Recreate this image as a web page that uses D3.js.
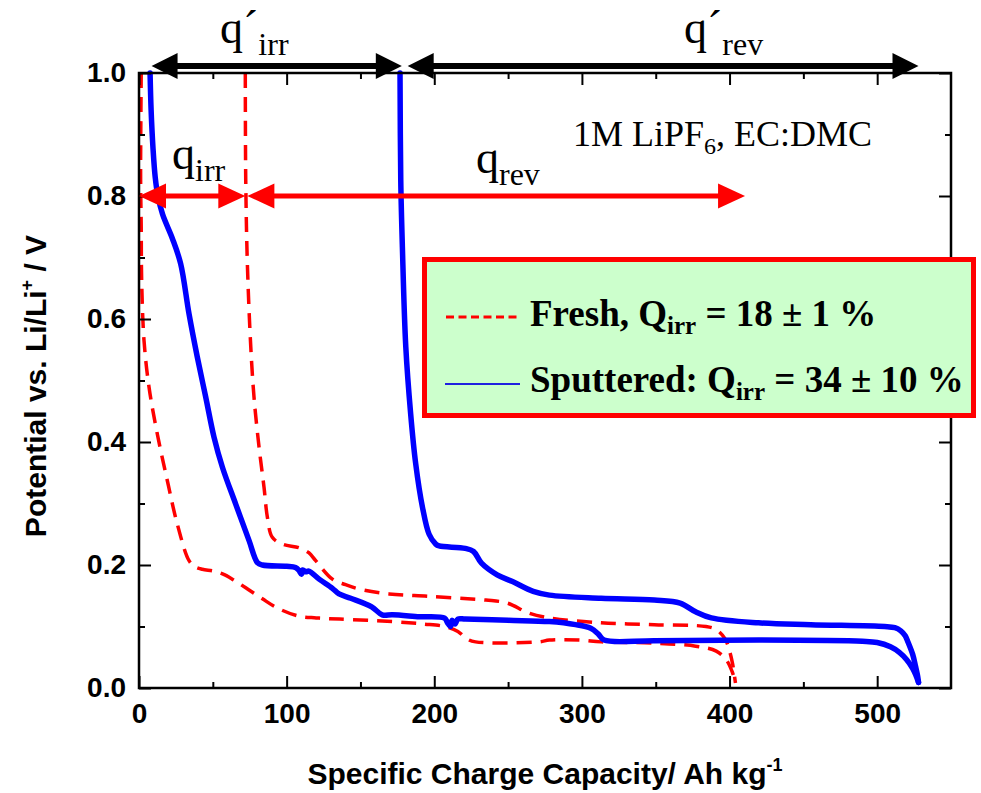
<!DOCTYPE html>
<html><head><meta charset="utf-8">
<script src="https://cdn.jsdelivr.net/npm/d3@7/dist/d3.min.js"></script>
<style>body{margin:0;background:#fff}svg{display:block}</style>
</head><body><svg id="c" width="981" height="793"></svg>
<script>
// ---- data ----
const xTicks = [0, 100, 200, 300, 400, 500];
const xMinor = [50, 150, 250, 350, 450];
const yTicks = [0.0, 0.2, 0.4, 0.6, 0.8, 1.0];
const yMinor = [0.1, 0.3, 0.5, 0.7, 0.9];

// Fresh electrode (red dashed)
const freshFirst = [[1.5,1.0],[1.2,0.9],[1.1,0.826],[1.5,0.75],[1.8,0.663],[3.4,0.565],[6.8,0.489],[12.4,0.413],[19.2,0.337],[26,0.266],[33.9,0.207],[38,0.197],[42.9,0.193],[50.8,0.19],[57,0.185],[63.2,0.177],[72.3,0.163],[83.6,0.145],[93.8,0.130],[108,0.117],[120,0.114],[136,0.112],[171.7,0.108],[193,0.104],[207,0.100],[216,0.092],[222,0.08],[228,0.075],[271,0.075],[278,0.078],[299,0.078],[313,0.075],[349,0.073],[377,0.068],[391,0.06],[398,0.045],[402,0.025],[404,0.008]];
const freshSecond = [[72,1.0],[72.3,0.826],[73.4,0.69],[75.7,0.555],[77.9,0.473],[81.3,0.392],[84.7,0.326],[87,0.277],[90.3,0.245],[97.1,0.234],[108.4,0.228],[115,0.220],[119.7,0.207],[131,0.177],[140,0.168],[149,0.161],[169.4,0.153],[196.5,0.149],[235,0.143],[249.6,0.138],[263.8,0.122],[278,0.114],[313,0.106],[349,0.103],[384,0.100],[391,0.095],[397,0.08],[400,0.06],[402,0.04],[404,0.008]];

// Sputtered electrode (blue solid)
const sputFirst = [[7.5,1.0],[8.2,0.94],[9.5,0.877],[11,0.83],[12.8,0.8],[16,0.77],[22.6,0.731],[28.2,0.690],[33.9,0.608],[39.5,0.538],[45.2,0.473],[50.8,0.408],[56.5,0.359],[65.5,0.299],[74.5,0.240],[80.2,0.204],[83.6,0.200],[100,0.198],[106,0.196],[108.4,0.191],[110,0.185],[111,0.192],[113,0.189],[115,0.19],[122,0.177],[131,0.162],[135.5,0.153],[143.4,0.146],[157.6,0.132],[164.7,0.119],[171.7,0.119],[190,0.116],[207,0.1135],[209,0.106],[211,0.1],[212,0.11],[214,0.104],[216,0.112],[221,0.112],[250,0.11],[278,0.108],[295.7,0.103],[306,0.097],[311,0.088],[315,0.078],[349,0.077],[420,0.078],[490,0.076],[500,0.074],[509,0.067],[515,0.058],[520,0.046],[524,0.032],[526,0.022],[528,0.009]];
const sputSecond = [[176.8,1.0],[177.3,0.826],[178.4,0.717],[180.7,0.555],[184,0.446],[187.4,0.365],[192,0.294],[196.5,0.25],[201,0.234],[203.3,0.231],[221,0.227],[226.6,0.222],[232,0.203],[242.6,0.184],[253,0.173],[267,0.157],[278,0.151],[313,0.146],[349,0.143],[366.5,0.138],[377,0.124],[387.7,0.114],[419.6,0.106],[455,0.103],[505,0.1],[512,0.098],[516,0.093],[519,0.085],[521,0.074],[524,0.055],[526,0.035],[527.5,0.018],[528,0.009]];

// capacity ranges marked with arrows [start, end]
const qIrrPrime = [8.5, 178];
const qRevPrime = [182, 528];
const qIrr = [0, 72];
const qRev = [73.4, 410.5];
const arrowLevel = 0.8;

const legendLabels = ["Fresh, Q", "Sputtered: Q"];
const legendValues = [" = 18 \u00b1 1 %", " = 34 \u00b1 10 %"];

// ---- drawing ----
const svg = d3.select("#c");
const L = 139, R = 951, T = 73, B = 688;
const x = d3.scaleLinear().domain([0, 550]).range([L, R]);
const y = d3.scaleLinear().domain([0, 1]).range([B, T]);
const SANS = "'Liberation Sans', Arial, sans-serif";
const SERIF = "'Liberation Serif', 'Times New Roman', serif";

const line = d3.line().x(d => x(d[0])).y(d => y(d[1])).curve(d3.curveCatmullRom.alpha(0.5));

// curves
[freshFirst, freshSecond].forEach(d => svg.append("path").attr("d", line(d))
  .attr("fill", "none").attr("stroke", "#ff0000").attr("stroke-width", 3.5)
  .attr("stroke-dasharray", "15,9"));
[sputFirst, sputSecond].forEach(d => svg.append("path").attr("d", line(d))
  .attr("fill", "none").attr("stroke", "#0000ff").attr("stroke-width", 5.5)
  .attr("stroke-linejoin", "round").attr("stroke-linecap", "round"));

// axes
function styleAxis(g) {
  g.select(".domain").remove();
  g.selectAll("line").attr("stroke", "#000").attr("stroke-width", 2);
  g.attr("font-family", SANS).attr("font-size", 28).attr("font-weight", "bold");
  g.selectAll("text").attr("fill", "#000");
}
svg.append("g").attr("transform", `translate(0,${B})`)
  .call(d3.axisBottom(x).tickValues(xTicks).tickSize(-12).tickPadding(15).tickFormat(d3.format("d"))).call(styleAxis);
svg.append("g").attr("transform", `translate(0,${B})`)
  .call(d3.axisBottom(x).tickValues(xMinor).tickSize(-6).tickFormat("")).call(styleAxis);
svg.append("g").attr("transform", `translate(0,${T})`)
  .call(d3.axisTop(x).tickValues(xTicks).tickSize(-12).tickFormat("")).call(styleAxis);
svg.append("g").attr("transform", `translate(0,${T})`)
  .call(d3.axisTop(x).tickValues(xMinor).tickSize(-6).tickFormat("")).call(styleAxis);
svg.append("g").attr("transform", `translate(${L},0)`)
  .call(d3.axisLeft(y).tickValues(yTicks).tickSize(-12).tickPadding(13).tickFormat(d3.format(".1f"))).call(styleAxis);
svg.append("g").attr("transform", `translate(${L},0)`)
  .call(d3.axisLeft(y).tickValues(yMinor).tickSize(-6).tickFormat("")).call(styleAxis);
svg.append("g").attr("transform", `translate(${R},0)`)
  .call(d3.axisRight(y).tickValues(yTicks).tickSize(-12).tickFormat("")).call(styleAxis);
svg.append("g").attr("transform", `translate(${R},0)`)
  .call(d3.axisRight(y).tickValues(yMinor).tickSize(-6).tickFormat("")).call(styleAxis);
svg.append("rect").attr("x", L).attr("y", T).attr("width", R - L).attr("height", B - T)
  .attr("fill", "none").attr("stroke", "#000").attr("stroke-width", 2.5);

// axis titles
const xt = svg.append("text").attr("x", (L + R) / 2).attr("y", 784).attr("text-anchor", "middle")
  .attr("font-family", SANS).attr("font-size", 30).attr("font-weight", "bold");
xt.append("tspan").text("Specific Charge Capacity/ Ah kg");
xt.append("tspan").attr("font-size", 18).attr("dy", -13).text("-1");

const yt = svg.append("text").attr("transform", `translate(46,386) rotate(-90)`).attr("text-anchor", "middle")
  .attr("font-family", SANS).attr("font-size", 30).attr("font-weight", "bold");
yt.append("tspan").text("Potential vs. Li/Li");
yt.append("tspan").attr("font-size", 18).attr("dy", -13).text("+");
yt.append("tspan").attr("dy", 13).text(" / V");

// arrows
function dblArrow(x1, x2, yy, color, shaftW, hl, hw) {
  const g = svg.append("g");
  g.append("line").attr("x1", x1 + hl - 1).attr("x2", x2 - hl + 1).attr("y1", yy).attr("y2", yy)
    .attr("stroke", color).attr("stroke-width", shaftW);
  g.append("polygon").attr("points", `${x1},${yy} ${x1 + hl},${yy - hw} ${x1 + hl},${yy + hw}`).attr("fill", color);
  g.append("polygon").attr("points", `${x2},${yy} ${x2 - hl},${yy - hw} ${x2 - hl},${yy + hw}`).attr("fill", color);
}
const blackY = 66;
dblArrow(x(qIrrPrime[0]), x(qIrrPrime[1]), blackY, "#000", 6, 26, 13);
dblArrow(x(qRevPrime[0]), x(qRevPrime[1]), blackY, "#000", 6, 26, 13);
dblArrow(x(qIrr[0]), x(qIrr[1]), y(arrowLevel), "#ff0000", 5, 27, 12.5);
dblArrow(x(qRev[0]), x(qRev[1]), y(arrowLevel), "#ff0000", 5, 27, 12.5);

// arrow labels
function qLabel(px, py, main, sub, mainSize, subSize, shift) {
  const t = svg.append("text").attr("x", px).attr("y", py).attr("font-family", SERIF).attr("fill", "#000");
  t.append("tspan").attr("font-size", mainSize).text(main);
  t.append("tspan").attr("font-size", subSize).attr("dy", shift).text(sub);
}
qLabel(220, 43, "q\u00b4", "irr", 46, 32, 12);
qLabel(684, 43, "q\u00b4", "rev", 46, 32, 12);
qLabel(172, 169, "q", "irr", 46, 32, 12);
qLabel(476, 173, "q", "rev", 46, 32, 12);

// electrolyte note
const note = svg.append("text").attr("x", 573).attr("y", 146).attr("font-family", SERIF).attr("font-size", 36);
note.append("tspan").text("1M LiPF");
note.append("tspan").attr("font-size", 24).attr("dy", 8).text("6");
note.append("tspan").attr("dy", -8).text(", EC:DMC");

// legend
svg.append("rect").attr("x", 424.5).attr("y", 259.5).attr("width", 549).attr("height", 156)
  .attr("fill", "#ccffcc").attr("stroke", "#ff0000").attr("stroke-width", 5);
svg.append("line").attr("x1", 446).attr("x2", 518).attr("y1", 317).attr("y2", 317)
  .attr("stroke", "#ff0000").attr("stroke-width", 3).attr("stroke-dasharray", "8,4.5");
svg.append("line").attr("x1", 445).attr("x2", 520).attr("y1", 384).attr("y2", 384)
  .attr("stroke", "#2020e0").attr("stroke-width", 2.2);
[326, 392].forEach((yy, i) => {
  const t = svg.append("text").attr("x", 530).attr("y", yy).attr("font-family", SERIF)
    .attr("font-size", 37).attr("font-weight", "bold");
  t.append("tspan").text(legendLabels[i]);
  t.append("tspan").attr("font-size", 25).attr("dy", 8).text("irr");
  t.append("tspan").attr("dy", -8).text(legendValues[i]);
});
</script></body></html>
